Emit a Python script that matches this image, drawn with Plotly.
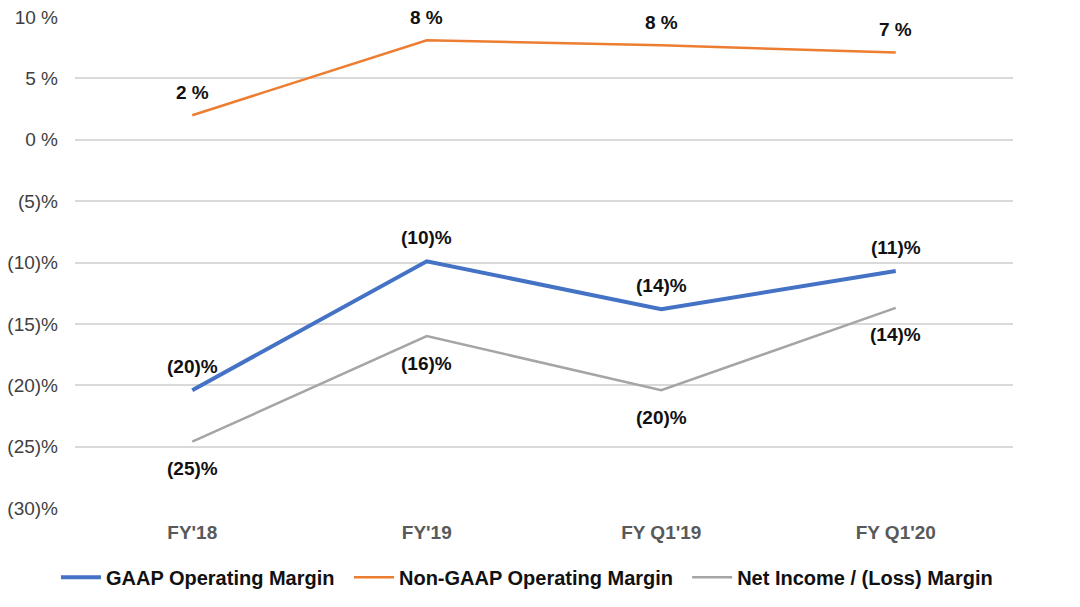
import plotly.graph_objects as go

categories = ["FY'18", "FY'19", "FY Q1'19", "FY Q1'20"]
gaap = [-20.4, -9.9, -13.8, -10.7]
non_gaap = [2.0, 8.1, 7.7, 7.1]
net_income = [-24.6, -16.0, -20.4, -13.7]
gaap_labels = ["(20)%", "(10)%", "(14)%", "(11)%"]
non_gaap_labels = ["2 %", "8 %", "8 %", "7 %"]
net_labels = ["(25)%", "(16)%", "(20)%", "(14)%"]
y_tickvals = [10, 5, 0, -5, -10, -15, -20, -25, -30]
y_ticktext = ["10 %", "5 %", "0 %", "(5)%", "(10)%", "(15)%", "(20)%", "(25)%", "(30)%"]

FONT = "Liberation Sans, Arial, sans-serif"

fig = go.Figure()
fig.add_trace(go.Scatter(x=categories, y=gaap, mode="lines", name="GAAP Operating Margin",
                         line=dict(color="#4472C4", width=4), legend="legend"))
fig.add_trace(go.Scatter(x=categories, y=non_gaap, mode="lines", name="Non-GAAP Operating Margin",
                         line=dict(color="#ED7D31", width=2.5), legend="legend2"))
fig.add_trace(go.Scatter(x=categories, y=net_income, mode="lines", name="Net Income / (Loss) Margin",
                         line=dict(color="#A5A5A5", width=2.5), legend="legend3"))

annotations = []
for lbls, vals, shift in [(non_gaap_labels, non_gaap, 23), (gaap_labels, gaap, 24), (net_labels, net_income, -27)]:
    for c, v, t in zip(categories, vals, lbls):
        annotations.append(dict(x=c, y=v, text=t, showarrow=False, yshift=shift,
                                font=dict(family=FONT, size=19, color="#111111", weight="bold")))

legend_font = dict(family=FONT, size=20, color="#111111", weight="bold")
def leg(x):
    return dict(orientation="h", x=x, xanchor="left", y=-0.141, yanchor="middle",
                font=legend_font, itemwidth=40, bgcolor="rgba(0,0,0,0)")

fig.update_layout(
    width=1080, height=607,
    margin=dict(l=67, r=75, t=9, b=107),
    paper_bgcolor="white", plot_bgcolor="white",
    font=dict(family=FONT, size=19, color="#404040"),
    annotations=annotations,
    showlegend=True,
    legend=leg(-0.0203),
    legend2=leg(0.2921),
    legend3=leg(0.6526),
    xaxis=dict(type="category", range=[-0.5, 3.5], showgrid=False, zeroline=False, showline=False,
               ticks="", tickfont=dict(family=FONT, size=19, color="#595959", weight="bold"),
               ticklabelstandoff=11, automargin=False),
    yaxis=dict(range=[-30, 10], tickvals=y_tickvals, ticktext=y_ticktext, showgrid=True,
               gridcolor="#D9D9D9", gridwidth=1.5, zeroline=False, showline=False, ticks="",
               tickfont=dict(family=FONT, size=19, color="#404040"), ticklabelstandoff=16,
               ticklabeloverflow="allow", automargin=False),
)
fig.write_html("out.html")
